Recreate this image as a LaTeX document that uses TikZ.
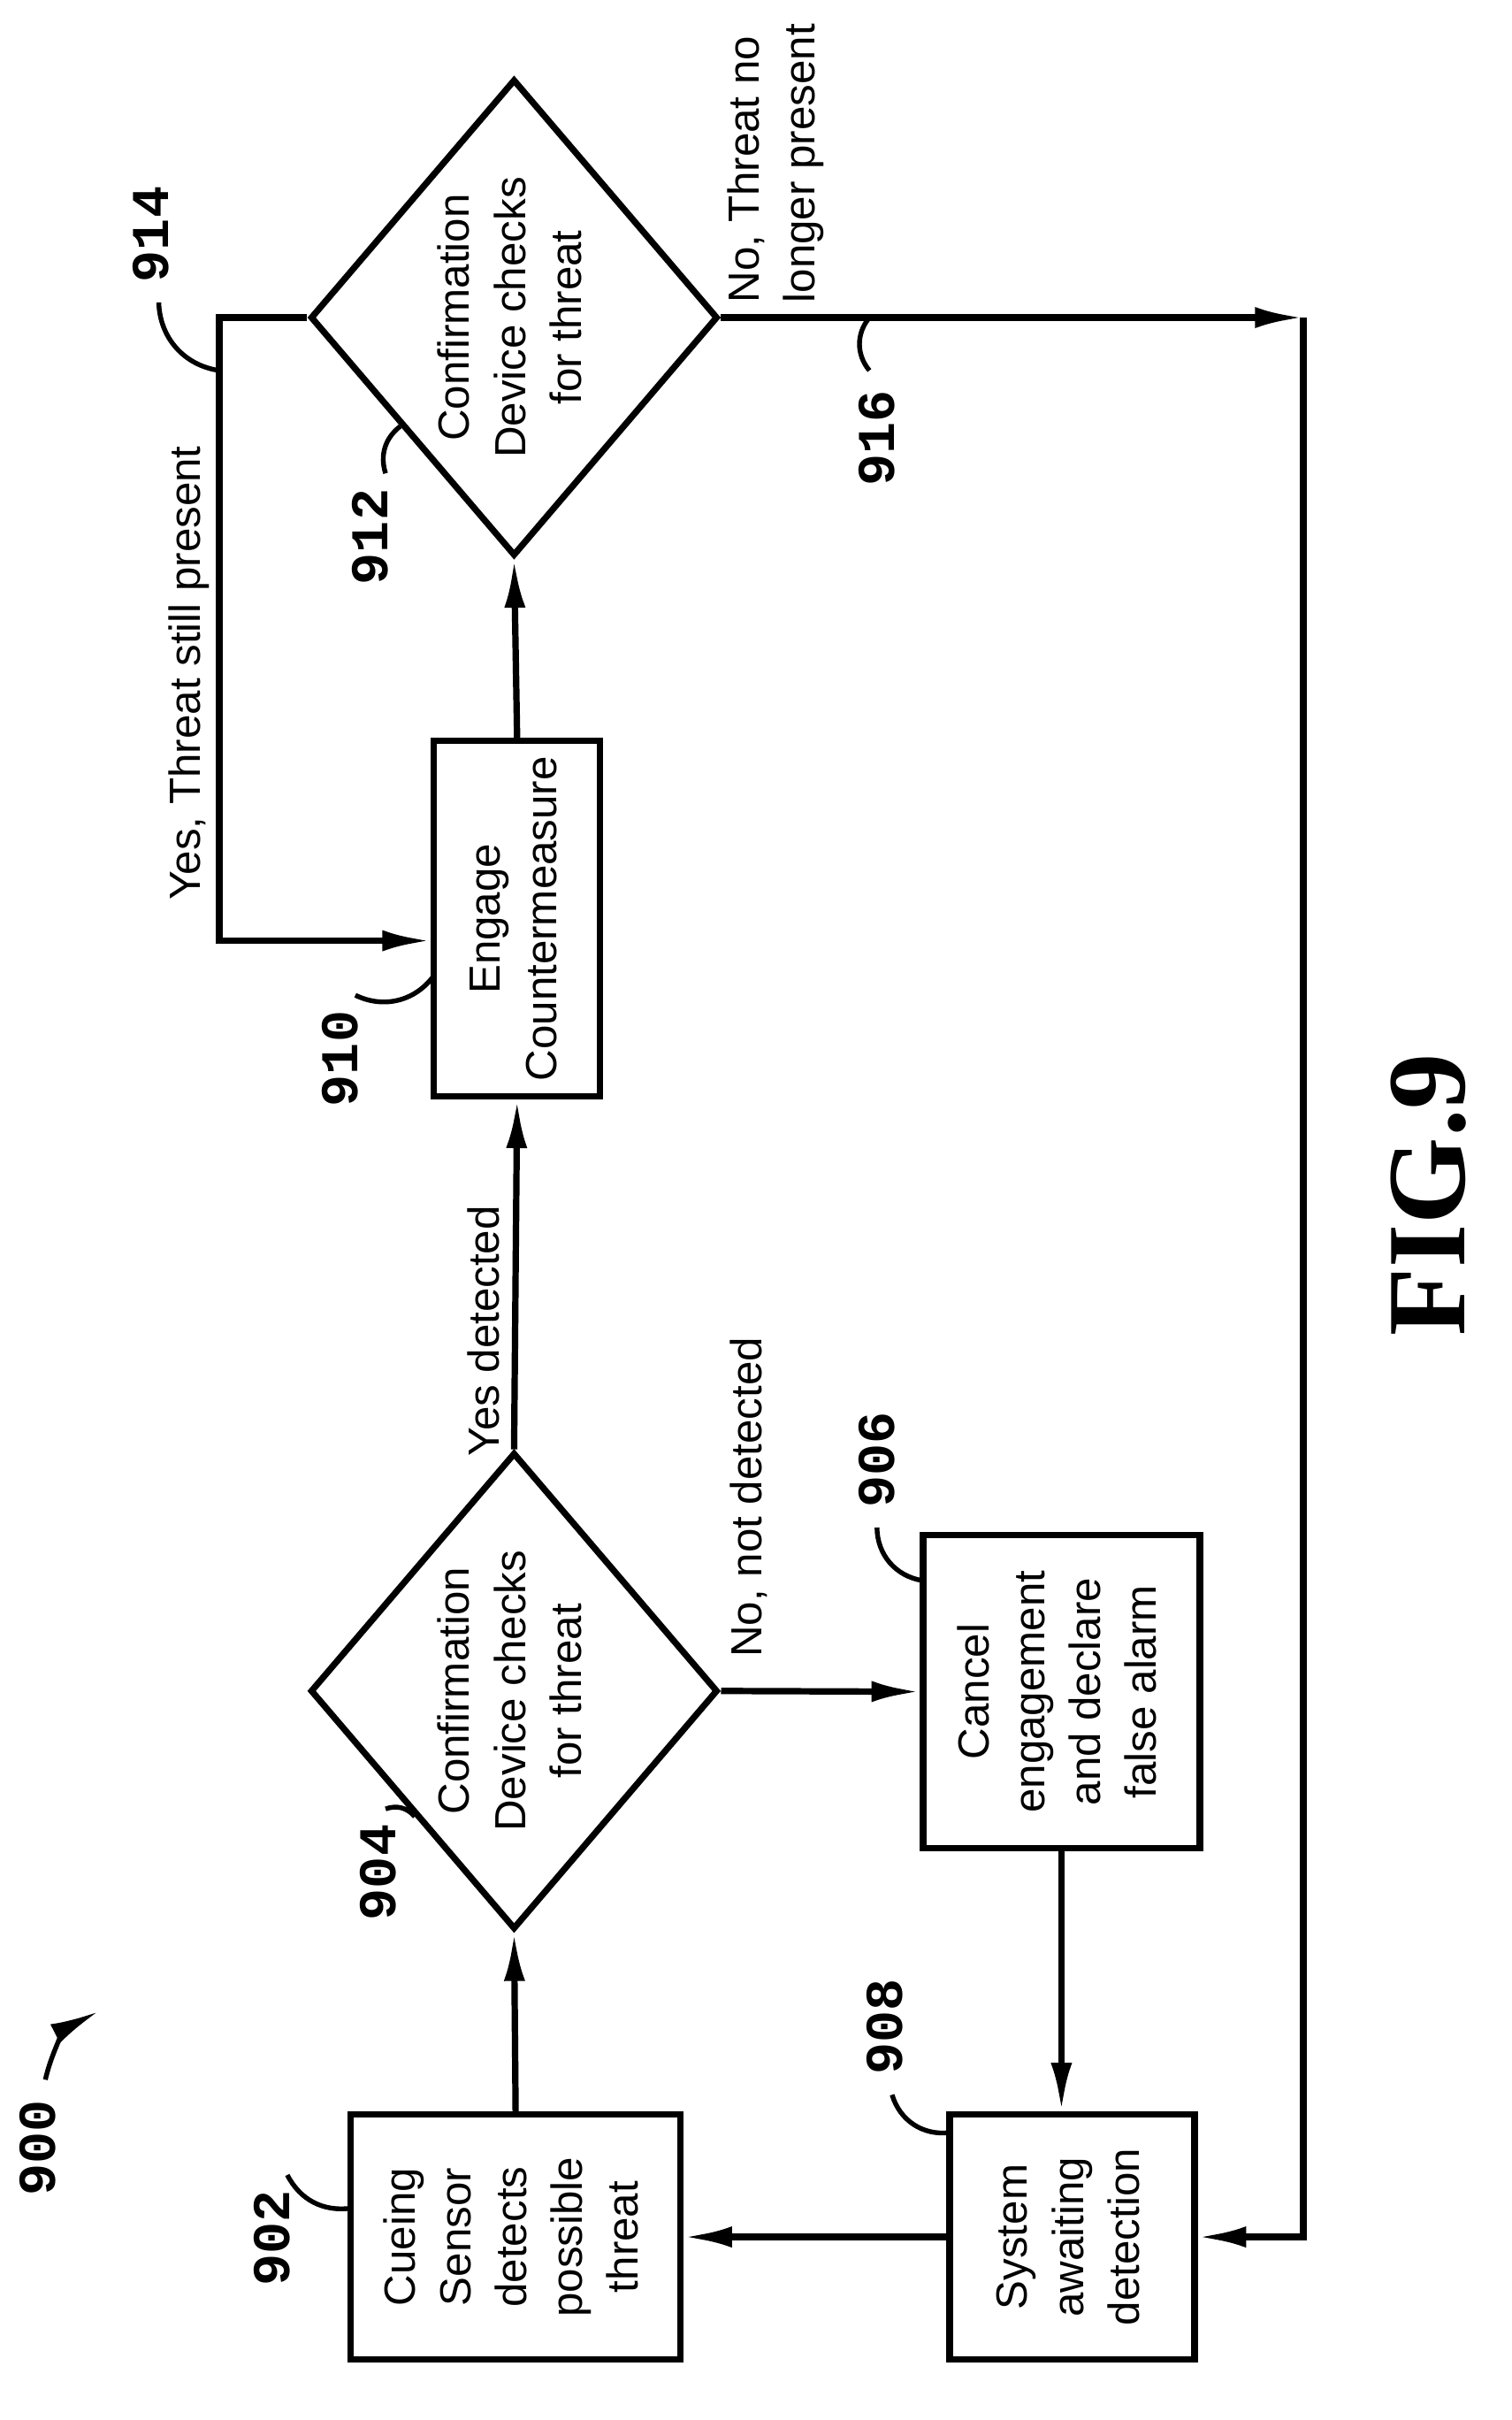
\documentclass[tikz,border=0pt]{standalone}
\usepackage{fontspec}
\setmainfont{Liberation Sans}
\newfontfamily\refnum{Liberation Mono}
\newfontfamily\figfont{Liberation Serif}
\usetikzlibrary{shapes.geometric,arrows.meta,calc}

\newcommand{\rtext}[1]{\rotatebox{90}{\begin{tabular}{@{}c@{}}#1\end{tabular}}}

\begin{document}
\begin{tikzpicture}[line width=1.2pt,
    arr/.style={-{Latex[length=3.2mm,width=1.4mm]}},
    box/.style={draw,rectangle,inner sep=0pt,font=\fontsize{8.2}{10.5}\selectfont},
    dec/.style={draw,diamond,inner sep=0pt,minimum width=2.6cm,minimum height=3.04cm,shape aspect=0.855,font=\fontsize{8.2}{10.5}\selectfont},
    lbl/.style={font=\fontsize{8.2}{10.5}\selectfont,rotate=90},
    num/.style={font=\refnum\bfseries\fontsize{10}{10}\selectfont,rotate=90},
    lead/.style={line width=0.9pt}]
  \useasboundingbox (0,0) rectangle (10,16);

  % boxes and decisions
  \node[box,minimum width=2.18cm,minimum height=1.62cm] (902) at (3.41,1.21) {\rtext{Cueing\\Sensor\\detects\\possible\\threat}};
  \node[box,minimum width=1.62cm,minimum height=1.62cm] (908) at (7.09,1.21) {\rtext{System\\awaiting\\detection}};
  \node[dec] (904) at (3.40,4.82) {\rtext{Confirmation\\Device checks\\for threat}};
  \node[box,minimum width=1.83cm,minimum height=2.07cm] (906) at (7.02,4.815) {\rtext{Cancel\\engagement\\and declare\\false alarm}};
  \node[box,minimum width=1.10cm,minimum height=2.35cm] (910) at (3.42,9.925) {\rtext{Engage\\Countermeasure}};
  \node[dec] (912) at (3.40,13.90) {\rtext{Confirmation\\Device checks\\for threat}};

  \coordinate (c914) at (1.45,13.90);
  \coordinate (c916) at (8.62,13.90);

  % connectors
  \draw[arr] (902.north) -- (904.south);
  \draw[arr] (904.north) -- (910.south);
  \draw[arr] (910.north) -- (912.south);
  \draw[arr] (904.east) -- (906.west);
  \draw[arr] (906.south) -- (906.south |- 908.north);
  \draw[arr] (908.west) -- (902.east);
  \draw[arr] (912.east) -- (c916);
  \draw[arr] (c916) |- (908.east);
  \draw[arr] (912.west) -- (c914) |- ([yshift=-1.45mm]910.west);

  % edge texts
  \node[lbl] (tYes) at (1.25,11.55) {Yes, Threat still present};
  \node[lbl,align=left] (tNoLong) at (5.13,14.92) {No, Threat no\\longer present};
  \node[lbl] (tYesDet) at (3.20,7.20) {Yes detected};
  \node[lbl] (tNoDet) at (4.95,6.10) {No, not detected};

  % reference numerals
  \node[num] (n900) at (0.25,1.80) {900};
  \draw[lead,arr] (0.30,2.25) to[bend left=25] (0.65,2.70);
  \node[num] (n902) at (1.80,1.20) {902};
  \draw[lead] (1.90,1.62) to[bend right=35] (2.32,1.40);
  \node[num] (n904) at (2.50,3.62) {904};
  \draw[lead] (2.55,4.04) to[bend left=35] ($(904.west)!0.52!(904.south)$);
  \node[num] (n906) at (5.80,6.35) {906};
  \draw[lead] (5.80,5.90) to[bend right=40] (6.10,5.55);
  \node[num] (n908) at (5.85,2.60) {908};
  \draw[lead] (5.90,2.15) to[bend right=40] (6.28,1.90);
  \node[num] (n910) at (2.25,9.00) {910};
  \draw[lead] (2.35,9.42) to[bend right=40] (2.87,9.55);
  \node[num] (n912) at (2.45,12.45) {912};
  \draw[lead] (2.55,12.87) to[bend left=35] ($(912.west)!0.45!(912.south)$);
  \node[num] (n914) at (1.00,14.45) {914};
  \draw[lead] (1.05,14.00) to[bend right=40] (1.45,13.55);
  \node[num] (n916) at (5.80,13.10) {916};
  \draw[lead] (5.75,13.55) to[bend left=40] (5.75,13.90);

  \node[rotate=90,font=\figfont\bfseries\fontsize{21}{21}\selectfont] (fig) at (9.45,8.10) {FIG.9};
\end{tikzpicture}
\end{document}
